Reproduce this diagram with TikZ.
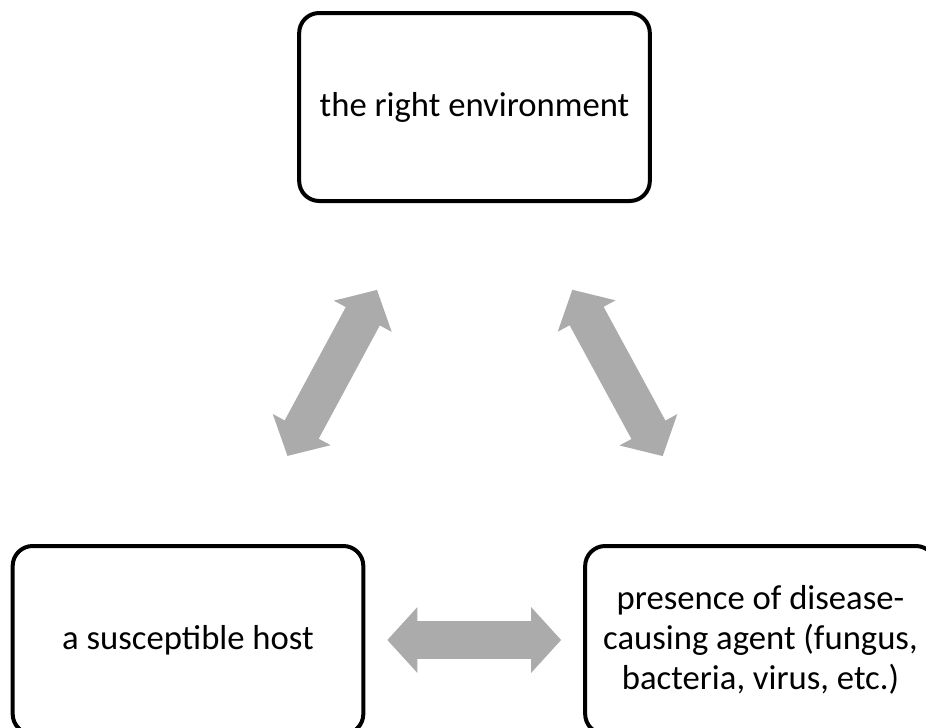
\documentclass[tikz,border=0pt]{standalone}
\usepackage{fontspec}
\setmainfont{Carlito}
\usetikzlibrary{arrows.meta}
\definecolor{arrowgray}{HTML}{ABABAB}
\newcommand\boxfont{\fontsize{26}{30}\selectfont\lineskiplimit=-20pt\relax}
\begin{document}
\begin{tikzpicture}[x=0.75pt, y=-0.75pt,
  box/.style={draw, line width=3pt, rounded corners=15pt, align=center,
    minimum width=263pt, minimum height=141pt, inner sep=0pt,
    font=\boxfont},
  bigarrow/.style={draw=arrowgray, line width=29pt,
    {Triangle[length=22.5pt, width=48pt]}-{Triangle[length=22.5pt, width=48pt]}}]
% Fix the page size
\useasboundingbox (0, 0) rectangle (926, 728);

% Draw the three boxes
\node[box] (env) at (474.5, 107) {the right environment};
\node[box] (host) at (188, 640) {a susceptible host};
\node[box] (agent) at (760.5, 640) {presence of disease-\\causing agent (fungus,\\bacteria, virus, etc.)};

% Draw the arrows between them
\draw[bigarrow, shorten <=75pt, shorten >=74pt] ([xshift=39pt]host.north) -- ([xshift=-38pt]env.south);
\draw[bigarrow, shorten <=74pt, shorten >=75pt] ([xshift=38pt]env.south) -- ([xshift=-37.5pt]agent.north);
\draw[bigarrow, shorten <=16.5pt, shorten >=16.5pt] (host.east) -- (agent.west);
\end{tikzpicture}
\end{document}
